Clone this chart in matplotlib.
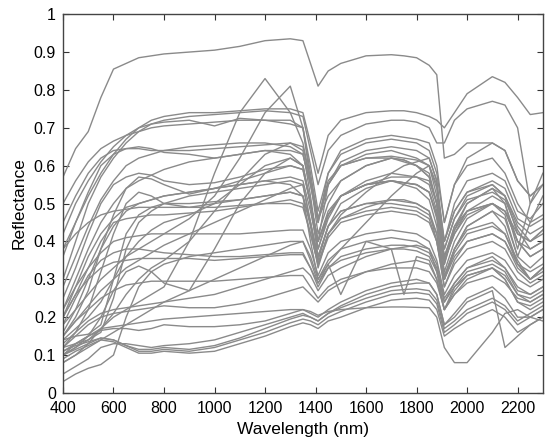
import numpy as np
import matplotlib
matplotlib.use("Agg")
import matplotlib.pyplot as plt

plt.rcParams['font.family'] = ['Liberation Sans', 'Noto Sans CJK JP', 'DejaVu Sans']

# wavelength grid shared by all spectra (nm)
wl = [400, 450, 500, 550, 600, 650, 700, 750, 800, 900, 1000, 1100, 1200, 1300,
      1350, 1380, 1410, 1450, 1500, 1600, 1700, 1750, 1800, 1850, 1880, 1910,
      1950, 2000, 2100, 2150, 2200, 2250, 2300]

# reflectance spectra
s01 = [.57,.645,.69,.78,.855,.87,.885,.89,.895,.90,.905,.915,.93,.935,.93,.87,.81,.85,.87,.89,.893,.89,.885,.865,.84,.62,.63,.66,.66,.64,.56,.52,.55]
s02 = [.36,.45,.52,.58,.63,.67,.70,.72,.73,.74,.74,.745,.75,.75,.74,.66,.58,.68,.72,.74,.745,.745,.74,.73,.72,.70,.74,.79,.835,.82,.78,.735,.74]
s03 = [.30,.40,.50,.57,.62,.66,.69,.71,.72,.73,.735,.74,.745,.74,.73,.64,.55,.64,.68,.71,.72,.72,.715,.70,.66,.66,.72,.75,.77,.76,.70,.50,.55]
s04 = [.42,.50,.56,.61,.65,.68,.70,.71,.715,.72,.705,.725,.72,.72,.70,.60,.48,.58,.63,.66,.67,.665,.66,.64,.58,.45,.55,.60,.62,.58,.50,.45,.47]
s05 = [.38,.45,.53,.60,.63,.645,.65,.645,.635,.63,.62,.63,.64,.64,.63,.55,.45,.55,.60,.62,.62,.61,.60,.58,.50,.38,.46,.52,.55,.52,.45,.42,.44]
s06 = [.25,.33,.42,.50,.55,.57,.58,.575,.56,.55,.555,.57,.59,.60,.59,.50,.40,.48,.52,.55,.56,.555,.55,.53,.47,.35,.42,.47,.50,.48,.42,.40,.42]
s07 = [.50,.56,.61,.645,.665,.68,.69,.70,.705,.71,.715,.72,.72,.71,.70,.58,.46,.55,.60,.63,.64,.63,.62,.60,.52,.40,.48,.53,.55,.52,.44,.40,.43]
s08 = [.08,.10,.13,.17,.20,.22,.24,.26,.28,.40,.58,.74,.83,.74,.66,.56,.46,.52,.56,.60,.62,.615,.60,.57,.50,.38,.46,.51,.53,.51,.43,.38,.40]
s09 = [.18,.22,.26,.30,.33,.36,.38,.40,.42,.46,.52,.62,.74,.81,.70,.56,.42,.50,.56,.60,.62,.615,.60,.57,.50,.36,.44,.48,.50,.48,.40,.36,.38]
s10 = [.10,.12,.15,.20,.27,.32,.335,.32,.29,.27,.38,.50,.58,.62,.60,.50,.40,.47,.52,.55,.56,.55,.54,.51,.44,.31,.38,.43,.45,.42,.34,.30,.33]
s11 = [.15,.20,.27,.38,.47,.54,.57,.565,.55,.525,.54,.56,.58,.60,.59,.50,.40,.47,.52,.55,.56,.555,.55,.53,.47,.36,.43,.48,.50,.48,.40,.36,.38]
s12 = [.12,.16,.22,.32,.42,.50,.53,.52,.50,.49,.50,.51,.52,.53,.52,.45,.36,.44,.48,.50,.50,.495,.49,.47,.42,.30,.37,.42,.44,.42,.35,.30,.33]
s13 = [.10,.13,.15,.17,.175,.18,.185,.19,.195,.20,.205,.21,.215,.22,.22,.215,.205,.215,.22,.225,.227,.227,.226,.225,.20,.12,.08,.08,.16,.21,.22,.20,.19]
s14 = [.05,.07,.09,.12,.13,.13,.125,.12,.125,.13,.14,.16,.18,.20,.21,.20,.19,.21,.23,.26,.28,.285,.29,.29,.26,.18,.20,.24,.27,.12,.15,.18,.20]
s15 = [.09,.11,.125,.14,.135,.12,.105,.105,.11,.105,.11,.13,.15,.175,.185,.18,.17,.19,.20,.225,.245,.248,.25,.245,.22,.15,.17,.19,.22,.20,.16,.18,.20]
s16 = [.10,.115,.13,.145,.14,.125,.11,.11,.115,.11,.12,.14,.16,.185,.195,.19,.18,.20,.215,.24,.26,.263,.265,.26,.235,.16,.18,.21,.24,.22,.18,.20,.22]
s17 = [.11,.125,.135,.145,.14,.125,.115,.115,.12,.115,.125,.145,.17,.195,.205,.20,.19,.21,.225,.25,.27,.273,.275,.27,.245,.17,.19,.22,.25,.23,.19,.21,.23]
s18 = [.03,.05,.065,.075,.10,.20,.28,.32,.34,.36,.37,.38,.39,.40,.40,.36,.30,.35,.38,.40,.41,.405,.40,.38,.32,.22,.27,.31,.33,.30,.24,.22,.24]
s19 = [.12,.13,.14,.16,.25,.38,.45,.48,.50,.52,.53,.54,.55,.56,.55,.45,.35,.44,.48,.50,.51,.505,.50,.48,.40,.28,.35,.40,.42,.40,.33,.30,.32]
s20 = [.14,.15,.155,.18,.30,.42,.47,.49,.50,.50,.505,.51,.52,.53,.52,.44,.33,.42,.46,.48,.49,.485,.48,.46,.40,.28,.34,.38,.40,.38,.32,.29,.31]
s21 = [.18,.25,.31,.35,.37,.38,.38,.375,.37,.365,.36,.36,.365,.37,.37,.33,.28,.33,.36,.38,.39,.39,.385,.37,.33,.24,.29,.33,.35,.33,.28,.26,.28]
s22 = [.22,.28,.33,.37,.40,.41,.415,.42,.42,.42,.42,.42,.425,.43,.43,.38,.31,.37,.40,.42,.43,.425,.42,.40,.35,.26,.31,.35,.37,.35,.30,.28,.30]
s23 = [.15,.19,.22,.25,.27,.285,.29,.295,.295,.295,.295,.30,.305,.31,.31,.28,.25,.28,.30,.32,.33,.33,.33,.32,.29,.22,.26,.29,.31,.29,.25,.24,.26]
s24 = [.20,.26,.30,.33,.345,.35,.355,.355,.355,.355,.35,.355,.36,.365,.365,.33,.29,.33,.35,.37,.38,.38,.375,.36,.32,.24,.28,.31,.33,.31,.26,.25,.27]
s25 = [.13,.16,.19,.21,.22,.225,.23,.235,.24,.25,.26,.28,.30,.32,.33,.31,.27,.31,.33,.36,.38,.385,.39,.38,.34,.25,.29,.33,.36,.33,.27,.26,.28]
s26 = [.12,.15,.18,.20,.21,.215,.22,.225,.23,.225,.225,.235,.25,.27,.28,.26,.24,.27,.29,.32,.34,.345,.35,.34,.30,.22,.26,.30,.33,.30,.24,.23,.25]
s27 = [.11,.13,.15,.165,.17,.17,.165,.17,.18,.175,.175,.18,.19,.21,.22,.21,.20,.22,.24,.27,.29,.295,.30,.29,.26,.18,.21,.25,.28,.25,.20,.20,.22]
s28 = [.20,.28,.36,.42,.46,.49,.50,.51,.52,.53,.54,.55,.56,.55,.52,.40,.30,.34,.26,.40,.38,.26,.36,.35,.30,.22,.28,.32,.34,.32,.26,.24,.26]
s29 = [.08,.10,.12,.14,.16,.18,.20,.22,.24,.27,.30,.33,.36,.39,.40,.35,.29,.34,.38,.45,.52,.55,.58,.60,.55,.35,.42,.48,.52,.50,.40,.38,.40]
s30 = [.15,.19,.23,.27,.30,.33,.35,.37,.39,.42,.45,.48,.51,.54,.55,.45,.34,.42,.47,.53,.58,.60,.61,.62,.56,.34,.43,.50,.54,.52,.42,.40,.43]
s31 = [.28,.36,.44,.51,.56,.60,.62,.63,.64,.65,.655,.66,.66,.65,.63,.55,.45,.58,.64,.67,.68,.675,.67,.66,.60,.45,.55,.62,.66,.64,.56,.52,.55]
s32 = [.22,.30,.38,.45,.50,.54,.56,.575,.59,.61,.62,.63,.64,.63,.60,.50,.40,.55,.61,.64,.65,.645,.64,.62,.56,.40,.50,.56,.58,.56,.48,.46,.50]
s33 = [.16,.22,.30,.38,.44,.48,.50,.51,.52,.53,.54,.55,.56,.57,.56,.48,.38,.47,.52,.55,.57,.57,.57,.56,.50,.34,.44,.50,.54,.50,.38,.50,.58]
s34 = [.20,.26,.33,.40,.45,.46,.465,.47,.47,.475,.48,.49,.50,.51,.50,.42,.34,.42,.46,.49,.51,.51,.50,.48,.42,.30,.38,.44,.48,.46,.36,.45,.52]
s35 = [.38,.42,.45,.47,.48,.485,.49,.49,.49,.49,.49,.495,.50,.50,.49,.42,.34,.41,.45,.47,.48,.475,.47,.45,.40,.30,.36,.40,.42,.40,.34,.32,.34]
s36 = [.45,.52,.58,.62,.64,.645,.645,.64,.64,.64,.645,.65,.655,.66,.65,.56,.46,.56,.60,.62,.625,.62,.615,.60,.54,.40,.48,.53,.56,.54,.46,.44,.46]
s37 = [.10,.12,.14,.17,.21,.26,.30,.33,.35,.40,.48,.56,.63,.66,.64,.52,.38,.46,.52,.56,.58,.575,.57,.55,.48,.32,.40,.46,.50,.47,.36,.33,.36]
s38 = [.14,.17,.20,.24,.30,.36,.40,.43,.45,.47,.50,.55,.60,.62,.60,.50,.36,.44,.50,.54,.56,.555,.55,.53,.46,.30,.38,.44,.48,.44,.34,.30,.33]

spectra = [s01, s02, s03, s04, s05, s06, s07, s08, s09, s10, s11, s12, s13, s14,
           s15, s16, s17, s18, s19, s20, s21, s22, s23, s24, s25, s26, s27, s28,
           s29, s30, s31, s32, s33, s34, s35, s36, s37, s38]

xticks = [400, 600, 800, 1000, 1200, 1400, 1600, 1800, 2000, 2200]
yticks = [0, 0.1, 0.2, 0.3, 0.4, 0.5, 0.6, 0.7, 0.8, 0.9, 1]
yticklabels = ['0', '0.1', '0.2', '0.3', '0.4', '0.5', '0.6', '0.7', '0.8', '0.9', '1']

fig = plt.figure(figsize=(5.5, 4.43), dpi=100)
ax = fig.add_axes([0.1145, 0.113, 0.8725, 0.855])

for s in spectra:
    ax.plot(wl, s, color='#8a8a8a', lw=1.0)

ax.set_xlim(400, 2300)
ax.set_ylim(0, 1)
ax.set_xticks(xticks)
ax.set_yticks(yticks)
ax.set_yticklabels(yticklabels)
ax.tick_params(direction='in', top=True, right=True, length=4, width=0.8,
               labelsize=11.5, colors='#333333', labelcolor='black')
ax.tick_params(axis='x', pad=6)
ax.tick_params(axis='y', pad=5)
for sp in ax.spines.values():
    sp.set_color('#444444')
    sp.set_linewidth(1.0)
ax.set_xlabel('Wavelength (nm)', fontsize=12.5, labelpad=4)
ax.set_ylabel('Reflectance', fontsize=12.5, labelpad=5)

fig.savefig('out.png', dpi=100)
